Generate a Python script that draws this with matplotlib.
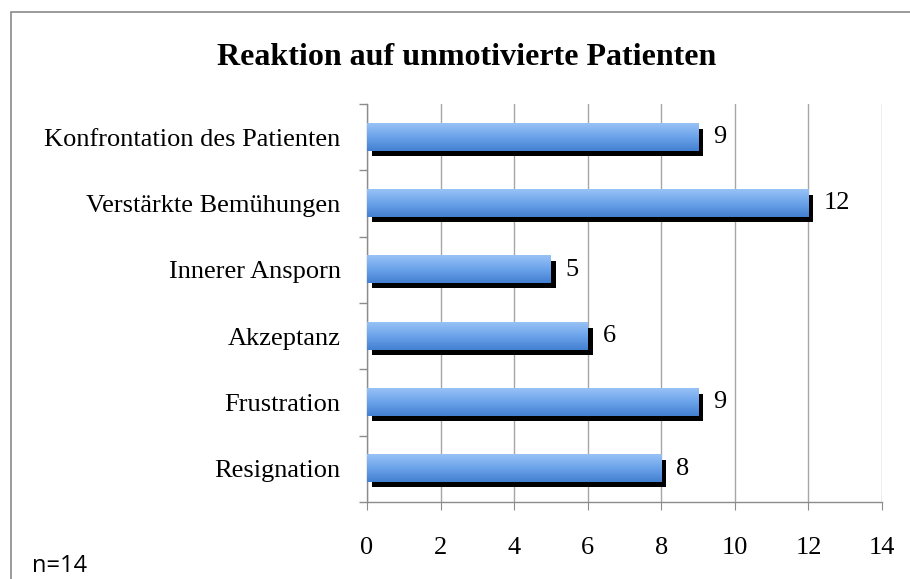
import matplotlib
matplotlib.use("Agg")
import matplotlib.pyplot as plt
import numpy as np
from matplotlib.colors import LinearSegmentedColormap
from matplotlib.patches import Rectangle
from matplotlib.transforms import ScaledTranslation

categories = [
    "Konfrontation des Patienten",
    "Verstärkte Bemühungen",
    "Innerer Ansporn",
    "Akzeptanz",
    "Frustration",
    "Resignation",
]
values = [9, 12, 5, 6, 9, 8]
x_ticks = [0, 2, 4, 6, 8, 10, 12, 14]
title = "Reaktion auf unmotivierte Patienten"
note = "n=14"

plt.rcParams["font.family"] = ["Liberation Serif", "DejaVu Serif"]

fig = plt.figure(figsize=(9.10, 5.79), dpi=100)
ax = fig.add_axes([0.4033, 0.133, 0.566, 0.6874])

bar_h = 0.41
pos = np.arange(len(categories))
grad = LinearSegmentedColormap.from_list("barblue", ["#98c2f6", "#6ba3ea", "#4480d2"])
g = np.linspace(0, 1, 64).reshape(-1, 1)

# shadow, shifted a few pixels right and down
shadow_off = ScaledTranslation(5 / 100, -5 / 100, fig.dpi_scale_trans)
ax.barh(pos, values, height=bar_h, color="black", zorder=2,
        transform=ax.transData + shadow_off)

for y, v in zip(pos, values):
    ax.imshow(g, cmap=grad, aspect="auto", zorder=3, origin="upper",
              extent=[0, v, y + bar_h / 2, y - bar_h / 2], interpolation="bilinear")
    ax.text(v + 0.4, y, str(v), va="center", ha="left", fontsize=19, zorder=4)

ax.set_xlim(0, 14)
ax.set_ylim(len(categories) - 0.5, -0.5)
ax.set_xticks(x_ticks)
ax.set_yticks(pos)
ax.set_yticklabels(categories, fontsize=19)
ax.set_yticks(np.arange(len(categories) + 1) - 0.5, minor=True)
ax.tick_params(axis="y", which="major", length=0, pad=19)
ax.tick_params(axis="y", which="minor", length=6, color="#8c8c8c", width=1)
ax.tick_params(axis="x", labelsize=19, length=6, color="#8c8c8c", pad=19)
ax.xaxis.grid(True, color="#a6a6a6", linewidth=1, zorder=0)
ax.set_axisbelow(True)
for side in ("top", "right"):
    ax.spines[side].set_visible(False)
for side in ("left", "bottom"):
    ax.spines[side].set_color("#8c8c8c")
    ax.spines[side].set_linewidth(1)

fig.text(0.513, 0.901, title, ha="center", va="center", fontsize=23, fontweight="bold")
fig.text(32 / 910, 1 / 579, note, ha="left", va="bottom", fontsize=17,
         family=["Open Sans", "DejaVu Sans"])

top = (579 - 12) / 579
fig.patches.append(Rectangle((11 / 910, -0.2), 1.2, top + 0.2,
                             transform=fig.transFigure, fill=False,
                             edgecolor="#8a8a8a", linewidth=1.2))

fig.savefig("out.png", dpi=100)
